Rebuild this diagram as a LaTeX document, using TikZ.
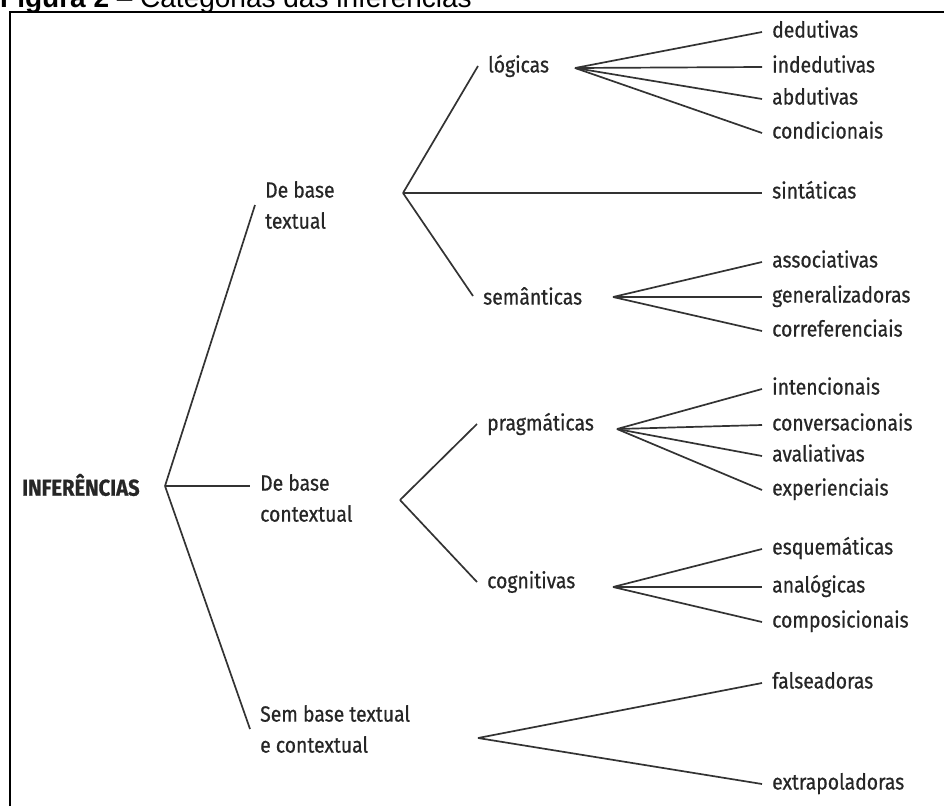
\documentclass[tikz,border=0pt]{standalone}
\usepackage{fontspec}
\setmainfont{Fira Sans}[FakeStretch=0.88,FakeBold=0.6]
\newfontfamily\capfont{Liberation Sans}
\usetikzlibrary{positioning}
\definecolor{inkgray}{HTML}{262626}
\definecolor{linegray}{HTML}{333333}

\begin{document}
\begin{tikzpicture}[x=1pt,y=-1pt,
  cat/.style={anchor=west,inner xsep=10pt,inner ysep=0pt,align=left,
              font=\fontsize{22}{31}\selectfont,text=inkgray},
  leaf/.style={anchor=west,inner xsep=10pt,inner ysep=0pt,
               text height=15pt,text depth=4pt,
               font=\fontsize{22}{24}\selectfont,text=inkgray},
  branch/.style={draw=linegray,line width=1.7pt}
]
  \useasboundingbox (0,0) rectangle (944,806);

  % ---- Frame and caption (cut by the top edge) ------------------
  \draw[line width=1.6pt] (10,806) -- (10,12) -- (950,12);
  \node[anchor=base west,inner sep=0pt,font=\capfont\fontsize{28}{32}\selectfont]
    (cap) at (0,7) {\textbf{Figura 2} – Categorias das inferências};

  % ---- Root -----------------------------------------------------
  \node[cat,inner xsep=0pt,font=\bfseries\fontsize{23}{26}\selectfont]
    (inf) at (22,485) {INFERÊNCIAS};
  \coordinate (infj) at (165,486);

  \node[cat] (tex) at (255,205) {De base\\textual};
  \node[cat] (con) at (250,498) {De base\\contextual};
  \node[cat] (sbt) at (250,729) {Sem base textual\\e contextual};

  \draw[branch] (infj) -- (tex.west);
  \draw[branch] (infj) -- (infj -| con.west);
  \draw[branch] (infj) -- (sbt.west);

  % ---- De base textual -----------------------------------------
  \coordinate (texj) at (403,193);
  \node[cat]  (log)  at (478,66)  {lógicas};
  \node[leaf] (sin)  at (762,193) {sintáticas};
  \node[cat]  (sema) at (473,296) {semânticas};

  \draw[branch] (texj) -- (log.west);
  \draw[branch] (texj) -- (sin.west);
  \draw[branch] (texj) -- (sema.west);

  % lógicas
  \coordinate (logj) at (575,68);
  \node[leaf] (ded) at (762,32)  {dedutivas};
  \node[leaf] (ind) at (762,67)  {indedutivas};
  \node[leaf] (abd) at (762,99)  {abdutivas};
  \node[leaf] (cnd) at (762,133) {condicionais};

  \draw[branch] (logj) -- (ded.west);
  \draw[branch] (logj) -- (ind.west);
  \draw[branch] (logj) -- (abd.west);
  \draw[branch] (logj) -- (cnd.west);

  % semânticas
  \coordinate (semaj) at (613,297);
  \node[leaf] (ass) at (762,262) {associativas};
  \node[leaf] (gen) at (762,297) {generalizadoras};
  \node[leaf] (cor) at (762,331) {correferenciais};

  \draw[branch] (semaj) -- (ass.west);
  \draw[branch] (semaj) -- (gen.west);
  \draw[branch] (semaj) -- (cor.west);

  % ---- De base contextual --------------------------------------
  \coordinate (conj) at (400,500);
  \node[cat] (pra) at (477,424) {pragmáticas};
  \node[cat] (cog) at (477,582) {cognitivas};

  \draw[branch] (conj) -- (pra.west);
  \draw[branch] (conj) -- (cog.west);

  % pragmáticas
  \coordinate (praj) at (617,429);
  \node[leaf] (int) at (762,389) {intencionais};
  \node[leaf] (cvs) at (762,425) {conversacionais};
  \node[leaf] (ava) at (762,456) {avaliativas};
  \node[leaf] (exp) at (762,490) {experienciais};

  \draw[branch] (praj) -- (int.west);
  \draw[branch] (praj) -- (cvs.west);
  \draw[branch] (praj) -- (ava.west);
  \draw[branch] (praj) -- (exp.west);

  % cognitivas
  \coordinate (cogj) at (613,587);
  \node[leaf] (esq) at (762,549) {esquemáticas};
  \node[leaf] (ana) at (762,587) {analógicas};
  \node[leaf] (cmp) at (762,622) {composicionais};

  \draw[branch] (cogj) -- (esq.west);
  \draw[branch] (cogj) -- (ana.west);
  \draw[branch] (cogj) -- (cmp.west);

  % ---- Sem base textual e contextual ---------------------------
  \coordinate (sbtj) at (478,738);
  \node[leaf] (fal) at (762,683) {falseadoras};
  \node[leaf] (ext) at (762,784) {extrapoladoras};

  \draw[branch] (sbtj) -- (fal.west);
  \draw[branch] (sbtj) -- (ext.west);

\end{tikzpicture}
\end{document}
